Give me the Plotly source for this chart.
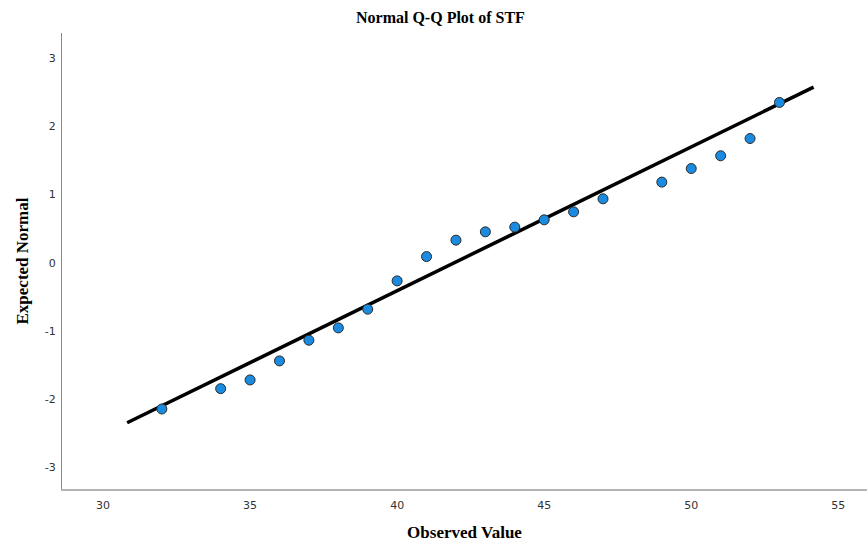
import plotly.graph_objects as go

observed = [32, 34, 35, 36, 37, 38, 39, 40, 41, 42, 43, 44, 45, 46, 47, 49, 50, 51, 52, 53]
expected = [-2.145, -1.847, -1.719, -1.440, -1.137, -0.956, -0.682, -0.267, 0.089, 0.330,
            0.452, 0.521, 0.628, 0.745, 0.936, 1.181, 1.380, 1.567, 1.820, 2.349]
line_x = [30.82, 54.16]
line_y = [-2.346, 2.574]
x_ticks = [30, 35, 40, 45, 50, 55]
y_ticks = [-3, -2, -1, 0, 1, 2, 3]
y_tick_labels = ["-3", "-2", "-1", "0", "1", "2", "3"]

fig = go.Figure()
fig.add_trace(go.Scatter(x=line_x, y=line_y, mode="lines",
                         line=dict(color="black", width=3.5), showlegend=False, hoverinfo="skip"))
fig.add_trace(go.Scatter(x=observed, y=expected, mode="markers",
                         marker=dict(size=10, color="#1a8be0", line=dict(color="#2b2b2b", width=1)),
                         showlegend=False))

fig.update_layout(
    width=867, height=542,
    margin=dict(l=62, r=0, t=33, b=53, autoexpand=False),
    paper_bgcolor="white", plot_bgcolor="white",
    title=dict(text="<b>Normal Q-Q Plot of STF</b>", x=0.508, xanchor="center", y=1 - 17/542, yanchor="middle",
               font=dict(family="Liberation Serif", size=16, color="black")),
    xaxis=dict(range=[28.605, 55.976], tickvals=x_ticks, showgrid=False, zeroline=False,
               automargin=False,
               showline=True, linecolor="#b4b4b4", linewidth=2,
               ticks="outside", ticklen=5, tickcolor="rgba(0,0,0,0)",
               tickfont=dict(family="DejaVu Sans", size=11, color="#333"),
               title=dict(text="<b>Observed Value</b>", standoff=18,
                          font=dict(family="Liberation Serif", size=17, color="black"))),
    yaxis=dict(range=[-3.318, 3.367], tickvals=y_ticks, ticktext=y_tick_labels,
               showgrid=False, zeroline=False,
               automargin=False,
               showline=True, linecolor="#888888", linewidth=1,
               ticks="outside", ticklen=3, tickcolor="rgba(0,0,0,0)",
               tickfont=dict(family="DejaVu Sans", size=11, color="#333"),
               title=dict(text="<b>Expected Normal</b>", standoff=11,
                          font=dict(family="Liberation Serif", size=17, color="black"))),
)

fig.write_html("out.html", config={"displayModeBar": False},
               post_script="document.body.style.margin='0';document.body.style.overflow='hidden';")
